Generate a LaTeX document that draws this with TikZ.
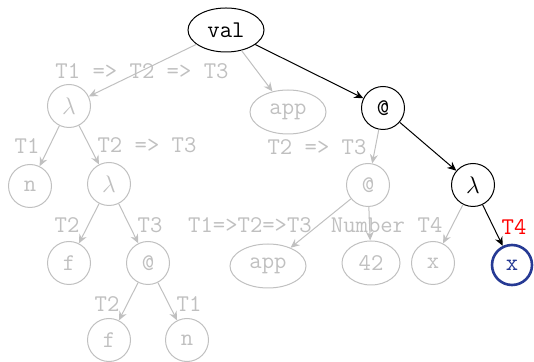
\documentclass[tikz,border=0pt]{standalone}
\usetikzlibrary{arrows.meta,shapes.geometric}
\definecolor{ghost}{RGB}{192,192,192}
\definecolor{navy}{RGB}{38,58,148}
\tikzset{
  every node/.style={font=\ttfamily\fontsize{12}{14}\selectfont},
  circ/.style={draw, circle, minimum size=21.5pt, inner sep=0pt},
  ell/.style={draw, ellipse, minimum width=38pt, minimum height=22pt, inner sep=0pt},
  dim/.style={ghost, text=ghost},
  lbl/.style={inner sep=0pt, anchor=center},
  arr/.style={-{Stealth[length=4.5pt,width=4pt,inset=1.5pt]}, line width=0.5pt},
}
\begin{document}
\begin{tikzpicture}[x=0.5pt,y=-0.5pt]
\useasboundingbox (0,0) rectangle (534,362);
% nodes
\node[ell, line width=0.5pt] (val) at (226,30) {val};
\node[circ, dim, line width=0.5pt] (l1) at (69,106) {$\lambda$};
\node[ell, dim, line width=0.5pt] (app1) at (288,112) {app};
\node[circ, line width=0.5pt] (at1) at (383,108) {@};
\node[circ, dim, line width=0.5pt] (n1) at (30,186) {n};
\node[circ, dim, line width=0.5pt] (l2) at (109,184) {$\lambda$};
\node[circ, dim, line width=0.5pt] (at2) at (368,185) {@};
\node[circ, line width=0.5pt] (l3) at (473,185) {$\lambda$};
\node[circ, dim, line width=0.5pt] (f1) at (69,263) {f};
\node[circ, dim, line width=0.5pt] (at3) at (148,263) {@};
\node[ell, dim, line width=0.5pt] (app2) at (268,266) {app};
\node[ell, dim, line width=0.5pt, minimum width=29pt] (n42) at (371,263) {42};
\node[circ, dim, line width=0.5pt] (x1) at (433,263) {x};
\node[circ, navy, text=navy, line width=1.3pt, minimum size=20pt] (x2) at (512,265) {x};
\node[circ, dim, line width=0.5pt] (f2) at (109,340) {f};
\node[circ, dim, line width=0.5pt] (n2) at (187,340) {n};
% labels
\node[lbl, text=ghost] (t1) at (142,71) {T1 => T2 => T3};
\node[lbl, text=ghost] (t2) at (27,146) {T1};
\node[lbl, text=ghost] (t3) at (147,145) {T2 => T3};
\node[lbl, text=ghost] (t4) at (67,225) {T2};
\node[lbl, text=ghost] (t5) at (150,225) {T3};
\node[lbl, text=ghost] (t6) at (107,304) {T2};
\node[lbl, text=ghost] (t7) at (189,304) {T1};
\node[lbl, text=ghost] (t8) at (317,147) {T2 => T3};
\node[lbl, text=ghost] (t9) at (250,225) {T1=>T2=>T3};
\node[lbl, text=ghost] (t10) at (368,225) {Number};
\node[lbl, text=ghost] (t11) at (430,225) {T4};
\node[lbl, text=red] (t12) at (514,227) {T4};
% edges
\draw[arr, ghost] (val) -- (l1);
\draw[arr, ghost] (val) -- (app1);
\draw[arr] (val) -- (at1);
\draw[arr, ghost] (l1) -- (n1);
\draw[arr, ghost] (l1) -- (l2);
\draw[arr, ghost] (l2) -- (f1);
\draw[arr, ghost] (l2) -- (at3);
\draw[arr, ghost] (at3) -- (f2);
\draw[arr, ghost] (at3) -- (n2);
\draw[arr, ghost] (at1) -- (at2);
\draw[arr] (at1) -- (l3);
\draw[arr, ghost] (at2) -- (app2);
\draw[arr, ghost] (at2) -- (n42);
\draw[arr, ghost] (l3) -- (x1);
\draw[arr] (l3) -- (x2);
\end{tikzpicture}
\end{document}
